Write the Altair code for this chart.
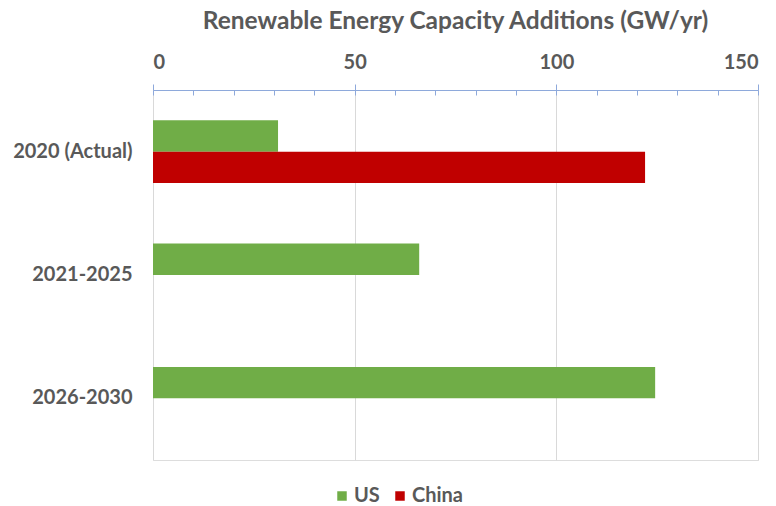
import altair as alt
import pandas as pd

# Chart data
periods = ["2020 (Actual)", "2021-2025", "2026-2030"]
us_gw = [31, 66, 124.5]
china_gw = [122, None, None]
series = ["US", "China"]
series_colors = ["#70AD47", "#C00000"]
major_ticks = [0, 50, 100, 150]
minor_ticks = list(range(0, 151, 10))

rows = []
for period, us, cn in zip(periods, us_gw, china_gw):
    rows.append({"period": period, "series": "US", "gw": us})
    if cn is not None:
        rows.append({"period": period, "series": "China", "gw": cn})
df = pd.DataFrame(rows)

FONT = "Lato"
GRAY = "#595959"
AXIS_BLUE = "#8EA9DB"

x_scale = alt.Scale(domain=[0, 150], nice=False, zero=True)

bars = alt.Chart(df).mark_bar().encode(
    x=alt.X(
        "gw:Q",
        scale=x_scale,
        axis=alt.Axis(
            orient="top", values=major_ticks, title=None,
            grid=True, gridColor="#D9D9D9", gridWidth=1,
            domainColor=AXIS_BLUE, tickColor=AXIS_BLUE, tickSize=6,
            labelFont=FONT, labelFontSize=20, labelFontWeight="bold",
            labelColor=GRAY, labelPadding=12,
        ),
    ),
    y=alt.Y(
        "period:N", sort=periods,
        scale=alt.Scale(domain=periods, paddingInner=0.49, paddingOuter=0.245),
        axis=alt.Axis(
            title=None, domain=False, ticks=False,
            labelFont=FONT, labelFontSize=20, labelFontWeight="bold",
            labelColor=GRAY, labelPadding=21,
        ),
    ),
    yOffset=alt.YOffset("series:N", sort=series, scale=alt.Scale(domain=series)),
    color=alt.Color(
        "series:N",
        scale=alt.Scale(domain=series, range=series_colors),
        legend=alt.Legend(
            title=None, orient="none", legendX=179, legendY=396,
            direction="horizontal", symbolType="square", symbolSize=90,
            symbolStrokeWidth=0, labelFont=FONT, labelFontSize=20,
            labelFontWeight="bold", labelColor=GRAY, labelOffset=2,
            columnPadding=10,
        ),
    ),
)

# Minor tick marks pointing into the plot from the top axis
minor = alt.Chart(pd.DataFrame({"t": minor_ticks})).mark_point(opacity=0).encode(
    x=alt.X(
        "t:Q",
        scale=x_scale,
        axis=alt.Axis(
            orient="top", values=minor_ticks, title=None, labels=False,
            domain=False, grid=False, tickColor=AXIS_BLUE, tickSize=5,
            offset=-5,
        ),
    ),
)

chart = (
    alt.layer(bars, minor)
    .resolve_scale(x="independent")
    .properties(
        width=605,
        height=370,
        autosize=alt.AutoSizeParams(type="none"),
        padding={"left": 153, "top": 90, "right": 18, "bottom": 46},
        title=alt.TitleParams(
            "Renewable Energy Capacity Additions (GW/yr)",
            font=FONT, fontSize=24.5, fontWeight="bold", color=GRAY,
            anchor="middle", offset=18,
        ),
    )
    .configure_view(stroke=None)
    .configure(background="white")
)

chart.save("out.html", embed_options={"renderer": "svg", "actions": False})
